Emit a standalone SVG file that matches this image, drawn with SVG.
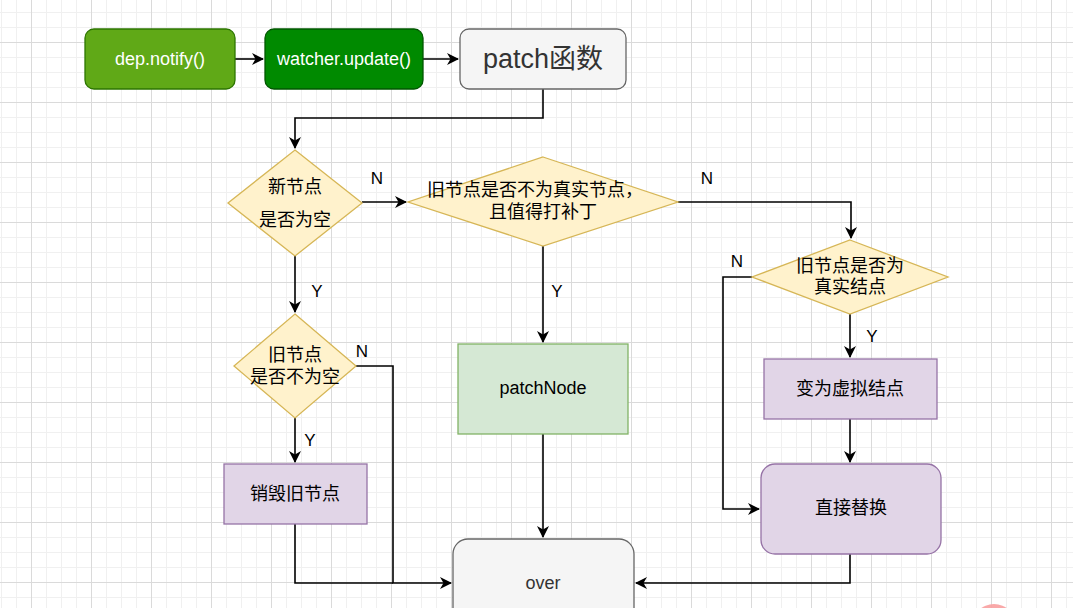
<svg xmlns="http://www.w3.org/2000/svg" width="1073" height="608" viewBox="0 0 1073 608">
<defs>
<pattern id="minor" x="1" y="12" width="15" height="15" patternUnits="userSpaceOnUse">
<path d="M0 0.5H15M0.5 0V15" fill="none" stroke="#f0f0f0" stroke-width="1"/>
</pattern>
<pattern id="major" x="31" y="42" width="60" height="60" patternUnits="userSpaceOnUse">
<path d="M0 0.5H60M0.5 0V60" fill="none" stroke="#dadada" stroke-width="1"/>
</pattern>
<marker id="arr" viewBox="0 0 12 12" refX="11" refY="6" markerWidth="12" markerHeight="12" markerUnits="userSpaceOnUse" orient="auto">
<path d="M0 0L12 6L0 12L3.5 6Z" fill="#000"/>
</marker>
<style>
text{font-family:"Liberation Sans",Arial,"Noto Sans CJK SC",sans-serif;font-size:18px;text-anchor:middle;dominant-baseline:central;fill:#000}
.dia{fill:#fff2cc;stroke:#d6b656;stroke-width:1.3}
.pur{fill:#e1d5e7;stroke:#9673a6;stroke-width:1.3}
.lbl{font-size:17px}
#connectors path{fill:none;stroke:#000;stroke-width:1.6}
</style>
</defs>
<rect width="1073" height="608" fill="#fff"/>
<rect width="1073" height="608" fill="url(#minor)"/>
<rect width="1073" height="608" fill="url(#major)"/>

<g id="connectors">
<path d="M235 59H263" marker-end="url(#arr)"/>
<path d="M423 59H458" marker-end="url(#arr)"/>
<path d="M543 89V118H295V148" marker-end="url(#arr)"/>
<path d="M362 202H406" marker-end="url(#arr)"/>
<path d="M678 202H851V238" marker-end="url(#arr)"/>
<path d="M752 277H723V509H759" marker-end="url(#arr)"/>
<path d="M850 314V357" marker-end="url(#arr)"/>
<path d="M850 419V462" marker-end="url(#arr)"/>
<path d="M850 554V583H636" marker-end="url(#arr)"/>
<path d="M543 246V342" marker-end="url(#arr)"/>
<path d="M543 434V537" marker-end="url(#arr)"/>
<path d="M295 256V312" marker-end="url(#arr)"/>
<path d="M356 366H393V583H451" marker-end="url(#arr)"/>
<path d="M295 418V462" marker-end="url(#arr)"/>
<path d="M295 524V583H393"/>
<text x="377" y="178" class="lbl">N</text>
<text x="707" y="178" class="lbl">N</text>
<text x="737" y="261" class="lbl">N</text>
<text x="872" y="336" class="lbl">Y</text>
<text x="557" y="291" class="lbl">Y</text>
<text x="317" y="291" class="lbl">Y</text>
<text x="362" y="351" class="lbl">N</text>
<text x="310" y="440" class="lbl">Y</text>
</g>

<g id="dep-notify">
<rect x="85" y="29" width="150" height="60" rx="9" fill="#60a917" stroke="#2d7600" stroke-width="1.3"/>
<text x="160" y="59" style="fill:#fff">dep.notify()</text>
</g>
<g id="watcher-update">
<rect x="265" y="29" width="158" height="60" rx="9" fill="#008a00" stroke="#005700" stroke-width="1.3"/>
<text x="344" y="59" style="fill:#fff">watcher.update()</text>
</g>
<g id="patch">
<rect x="460" y="29" width="166" height="60" rx="9" fill="#f5f5f5" stroke="#666" stroke-width="1.3"/>
<text x="543" y="59" style="fill:#333;font-size:27px">patch函数</text>
</g>
<g id="new-empty">
<path class="dia" d="M295 150L362 203L295 256L228 203Z"/>
<text x="295" y="187">新节点</text>
<text x="295" y="220">是否为空</text>
</g>
<g id="old-not-real">
<path class="dia" d="M543 157L678 202L543 246L408 202Z"/>
<text x="535" y="190">旧节点是否不为真实节点，</text>
<text x="543" y="212">且值得打补丁</text>
</g>
<g id="old-real">
<path class="dia" d="M850 240L948 277L850 314L752 277Z"/>
<text x="850" y="266">旧节点是否为</text>
<text x="850" y="287">真实结点</text>
</g>
<g id="old-not-empty">
<path class="dia" d="M295 314L356 366L295 418L234 366Z"/>
<text x="295" y="355">旧节点</text>
<text x="295" y="377">是否不为空</text>
</g>
<g id="destroy">
<rect class="pur" x="224" y="464" width="143" height="60"/>
<text x="295" y="494">销毁旧节点</text>
</g>
<g id="patchNode">
<rect x="458" y="344" width="170" height="90" fill="#d5e8d4" stroke="#82b366" stroke-width="1.3"/>
<text x="543" y="388">patchNode</text>
</g>
<g id="to-virtual">
<rect class="pur" x="764" y="359" width="173" height="60"/>
<text x="850" y="389">变为虚拟结点</text>
</g>
<g id="replace">
<rect class="pur" x="761" y="464" width="180" height="90" rx="14"/>
<text x="851" y="508">直接替换</text>
</g>
<g id="over">
<rect x="453" y="539" width="181" height="100" rx="15" fill="#f5f5f5" stroke="#666" stroke-width="1.3"/>
<text x="543" y="583" style="fill:#333">over</text>
</g>
<circle cx="994" cy="626" r="22" fill="#f8a0a0" opacity="0.9"/>
</svg>
